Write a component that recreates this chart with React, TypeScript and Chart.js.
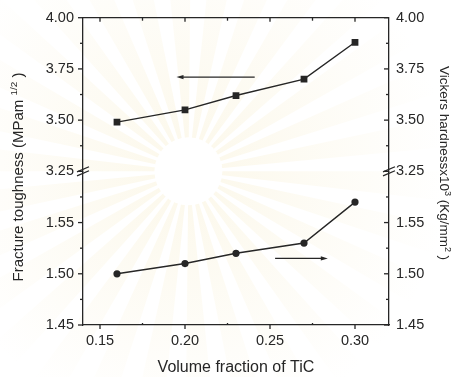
import React, { useEffect, useRef } from "react";
import { Chart, registerables } from "chart.js";

Chart.register(...registerables);

// Volume fraction of TiC for each sample
const tiCFraction = [0.16, 0.2, 0.23, 0.27, 0.3];
// Fracture toughness, MPa·m^1/2 (upper panel, square markers)
const fractureToughness = [3.49, 3.55, 3.62, 3.7, 3.88];
// Vickers hardness x10^3, kg/mm^2 (lower panel, circle markers)
const vickersHardness = [1.5, 1.51, 1.52, 1.53, 1.57];

// Axis ranges and ticks
const xRange = [0.14, 0.32];
const xMajorTicks = [0.15, 0.2, 0.25, 0.3];
const xMinorTicks = [0.175, 0.225, 0.275];
const upperRange = [3.25, 4.0];
const upperMajorTicks = [3.25, 3.5, 3.75, 4.0];
const upperMinorTicks = [3.375, 3.625, 3.875];
const lowerRange = [1.45, 1.6];
const lowerMajorTicks = [1.45, 1.5, 1.55];
const lowerMinorTicks = [1.475, 1.525, 1.575];

// Arrows telling which axis each curve belongs to: [x start, x end, y]
const toughnessArrow = [0.241, 0.195, 3.71];
const hardnessArrow = [0.253, 0.284, 1.515];

const INK = "#262626";
const FONT = "'Liberation Sans', Arial, Helvetica, sans-serif";

const isIn = (list: number[], v: number) => list.some((m) => Math.abs(m - v) < 1e-9);
const tickList = (major: number[], minor: number[]) =>
  [...major, ...minor].sort((a, b) => a - b).map((value) => ({ value }));

type Part = { text: string; sup?: boolean };

function drawRich(ctx: CanvasRenderingContext2D, parts: Part[], size: number) {
  const supSize = size * 0.66;
  const widths = parts.map((p) => {
    ctx.font = `${p.sup ? supSize : size}px ${FONT}`;
    return ctx.measureText(p.text).width;
  });
  const total = widths.reduce((a, b) => a + b, 0);
  let x = -total / 2;
  ctx.textAlign = "left";
  ctx.textBaseline = "alphabetic";
  parts.forEach((p, i) => {
    ctx.font = `${p.sup ? supSize : size}px ${FONT}`;
    ctx.fillText(p.text, x, p.sup ? -size * 0.4 : 0);
    x += widths[i];
  });
}

const decorPlugin = {
  id: "decor",
  beforeDraw(chart: any) {
    const { ctx, chartArea } = chart;
    ctx.save();
    ctx.fillStyle = "#ffffff";
    ctx.fillRect(0, 0, chart.width, chart.height);
    // faint emblem watermark: a soft ray burst behind the plot
    const cx = chart.scales.x.getPixelForValue(0.202);
    const cy = chartArea.top + chartArea.height * 0.5;
    const grad = ctx.createRadialGradient(cx, cy, 30, cx, cy, 260);
    grad.addColorStop(0, "rgba(242, 226, 170, 0.22)");
    grad.addColorStop(1, "rgba(242, 226, 170, 0.0)");
    ctx.fillStyle = grad;
    const n = 30;
    for (let i = 0; i < n; i++) {
      const a0 = (i / n) * Math.PI * 2;
      const a1 = a0 + ((Math.PI * 2) / n) * 0.55;
      ctx.beginPath();
      ctx.moveTo(cx, cy);
      ctx.arc(cx, cy, 300, a0, a1);
      ctx.closePath();
      ctx.fill();
    }
    ctx.fillStyle = "#ffffff";
    ctx.beginPath();
    ctx.arc(cx, cy, 34, 0, Math.PI * 2);
    ctx.fill();
    ctx.restore();
  },
  afterDraw(chart: any) {
    const { ctx, chartArea, scales } = chart;
    const { left, right, top, bottom } = chartArea;
    ctx.save();
    ctx.strokeStyle = INK;
    ctx.fillStyle = INK;
    ctx.lineWidth = 1.3;

    const line = (x1: number, y1: number, x2: number, y2: number) => {
      ctx.beginPath();
      ctx.moveTo(x1, y1);
      ctx.lineTo(x2, y2);
      ctx.stroke();
    };

    // top frame with inward ticks
    line(left, top, right, top);
    [...xMajorTicks, ...xMinorTicks].forEach((v) => {
      const x = scales.x.getPixelForValue(v);
      line(x, top, x, top + (isIn(xMajorTicks, v) ? 4 : 3));
    });
    // bottom axis ticks
    [...xMajorTicks, ...xMinorTicks].forEach((v) => {
      const x = scales.x.getPixelForValue(v);
      if (isIn(xMajorTicks, v)) line(x, bottom, x, bottom + 4);
      else line(x, bottom, x, bottom - 2);
    });
    // left axes: outward ticks; right axes: inward ticks
    const yTicks = (id: string, major: number[], minor: number[], x0: number) => {
      [...major, ...minor].forEach((v) => {
        const y = scales[id].getPixelForValue(v);
        line(x0, y, x0 - (isIn(major, v) ? 5 : 3), y);
      });
    };
    yTicks("yUpper", upperMajorTicks, upperMinorTicks, left);
    yTicks("yLower", lowerMajorTicks, lowerMinorTicks, left);
    yTicks("yUpperR", upperMajorTicks, upperMinorTicks, right);
    yTicks("yLowerR", lowerMajorTicks, lowerMinorTicks, right);

    // axis break marks
    const by = scales.yUpper.getPixelForValue(upperRange[0]);
    [left, right].forEach((x) => {
      [-2, 2].forEach((d) => line(x - 6, by + d + 2.6, x + 6, by + d - 2.6));
    });

    // direction arrows
    const arrow = (spec: number[], id: string) => {
      const x1 = scales.x.getPixelForValue(spec[0]);
      const x2 = scales.x.getPixelForValue(spec[1]);
      const y = scales[id].getPixelForValue(spec[2]);
      const dir = Math.sign(x2 - x1);
      ctx.lineWidth = 1.2;
      line(x1, y, x2 - dir * 4, y);
      ctx.beginPath();
      ctx.moveTo(x2, y);
      ctx.lineTo(x2 - dir * 7, y - 2.2);
      ctx.lineTo(x2 - dir * 7, y + 2.2);
      ctx.closePath();
      ctx.fill();
    };
    arrow(toughnessArrow, "yUpper");
    arrow(hardnessArrow, "yLower");

    // axis titles
    ctx.fillStyle = INK;
    ctx.save();
    ctx.translate((left + right) / 2, 371.5);
    drawRich(ctx, [{ text: "Volume fraction of TiC" }], 16);
    ctx.restore();

    ctx.save();
    ctx.translate(22.5, 177);
    ctx.rotate(-Math.PI / 2);
    drawRich(ctx, [{ text: "Fracture toughness (MPam " }, { text: "1/2", sup: true }, { text: " )" }], 15);
    ctx.restore();

    ctx.save();
    ctx.translate(440, 163);
    ctx.rotate(Math.PI / 2);
    drawRich(
      ctx,
      [
        { text: "Vickers hardnessx10" },
        { text: "3", sup: true },
        { text: " (Kg/mm" },
        { text: "2", sup: true },
        { text: " )" },
      ],
      13.5
    );
    ctx.restore();

    ctx.restore();
  },
};

const tickFont = { family: FONT, size: 14.5 };

function yAxis(position: "left" | "right", range: number[], major: number[], minor: number[]) {
  return {
    type: "linear",
    position,
    stack: position,
    stackWeight: 1,
    min: range[0],
    max: range[1],
    grid: { display: false, drawTicks: false },
    border: { display: true, color: INK, width: 1.3 },
    afterBuildTicks: (s: any) => {
      s.ticks = tickList(major, minor);
    },
    afterFit: (s: any) => {
      s.width = position === "left" ? 83 : 63;
    },
    ticks: {
      autoSkip: false,
      color: INK,
      font: tickFont,
      padding: position === "left" ? 9 : 7,
      callback: (v: number) => (isIn(major, v) ? Number(v).toFixed(2) : ""),
    },
  };
}

export default function App() {
  const canvasRef = useRef<HTMLCanvasElement | null>(null);

  useEffect(() => {
    document.body.style.margin = "0";
    const canvas = canvasRef.current;
    if (!canvas) return;
    const chart = new Chart(canvas, {
      type: "line",
      data: {
        datasets: [
          {
            label: "Fracture toughness",
            data: tiCFraction.map((x, i) => ({ x, y: fractureToughness[i] })),
            yAxisID: "yUpper",
            borderColor: INK,
            backgroundColor: INK,
            borderWidth: 1.4,
            pointStyle: "rect",
            pointRadius: 4.8,
            pointBorderWidth: 0,
            tension: 0,
          },
          {
            label: "Vickers hardness",
            data: tiCFraction.map((x, i) => ({ x, y: vickersHardness[i] })),
            yAxisID: "yLower",
            borderColor: INK,
            backgroundColor: INK,
            borderWidth: 1.4,
            pointStyle: "circle",
            pointRadius: 3.6,
            pointBorderWidth: 0,
            tension: 0,
          },
        ],
      },
      options: {
        animation: false,
        responsive: false,
        events: [],
        layout: { padding: { top: 16, left: 0, right: 0, bottom: 0 } },
        plugins: { legend: { display: false }, tooltip: { enabled: false } },
        scales: {
          x: {
            type: "linear",
            min: xRange[0],
            max: xRange[1],
            grid: { display: false, drawTicks: false },
            border: { display: true, color: INK, width: 1.3 },
            afterBuildTicks: (s: any) => {
              s.ticks = tickList(xMajorTicks, xMinorTicks);
            },
            afterFit: (s: any) => {
              s.height = 52;
            },
            ticks: {
              autoSkip: false,
              maxRotation: 0,
              color: INK,
              font: tickFont,
              padding: 7,
              callback: (v: number) => (isIn(xMajorTicks, v) ? Number(v).toFixed(2) : ""),
            },
          },
          yLower: yAxis("left", lowerRange, lowerMajorTicks, lowerMinorTicks),
          yUpper: yAxis("left", upperRange, upperMajorTicks, upperMinorTicks),
          yUpperR: yAxis("right", upperRange, upperMajorTicks, upperMinorTicks),
          yLowerR: yAxis("right", lowerRange, lowerMajorTicks, lowerMinorTicks),
        } as any,
      },
      plugins: [decorPlugin],
    });
    return () => chart.destroy();
  }, []);

  return (
    <div style={{ width: 452, height: 377 }}>
      <canvas ref={canvasRef} width={452} height={377} />
    </div>
  );
}
